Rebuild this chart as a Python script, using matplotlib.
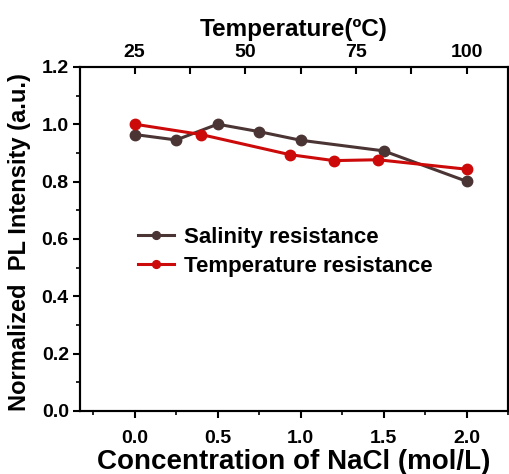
import matplotlib
matplotlib.use("Agg")
import matplotlib.pyplot as plt
from matplotlib.ticker import MultipleLocator

plt.rcParams['font.family'] = ['Liberation Sans', 'DejaVu Sans']
plt.rcParams['font.weight'] = 'bold'

nacl = [0.0, 0.25, 0.5, 0.75, 1.0, 1.5, 2.0]
salinity = [0.964, 0.945, 1.000, 0.974, 0.944, 0.907, 0.801]
temps = [25, 40, 60, 70, 80, 100]
temperature = [1.000, 0.964, 0.894, 0.873, 0.876, 0.843]

c_sal = '#4b3434'
c_tmp = '#cc0a0a'

fig = plt.figure(figsize=(5.09, 4.74), dpi=100)
ax = fig.add_axes([0.157, 0.133, 0.841, 0.726])
ax2 = ax.twiny()

l1, = ax.plot(nacl, salinity, '-o', color=c_sal, lw=2.2, ms=7.5, mec=c_sal, mfc=c_sal,
              label='Salinity resistance')
l2, = ax2.plot(temps, temperature, '-o', color=c_tmp, lw=2.2, ms=7.5, mec=c_tmp, mfc=c_tmp,
               label='Temperature resistance')

ax.set_xlim(-0.33, 2.25)
ax.set_ylim(0, 1.2)
# temp = 25 + 37.5 * x
ax2.set_xlim(25 + 37.5 * -0.33, 25 + 37.5 * 2.25)

ax.xaxis.set_major_locator(MultipleLocator(0.5))
ax.xaxis.set_minor_locator(MultipleLocator(0.25))
ax.yaxis.set_major_locator(MultipleLocator(0.2))
ax.yaxis.set_minor_locator(MultipleLocator(0.1))
ax2.xaxis.set_major_locator(MultipleLocator(25))
ax2.xaxis.set_minor_locator(MultipleLocator(12.5))

ax.tick_params(axis='both', which='major', direction='out', length=5, width=1.5,
               labelsize=14, right=False, pad=3)
ax.tick_params(axis='x', which='major', pad=9)
ax.tick_params(axis='both', which='minor', direction='out', length=3, width=1.2, right=False)
ax2.tick_params(axis='x', which='major', direction='in', length=5, width=1.5, labelsize=14, pad=4)
ax2.tick_params(axis='x', which='minor', direction='in', length=5, width=1.5)

for a in (ax, ax2):
    for s in a.spines.values():
        s.set_linewidth(1.5)
for lab in ax.get_xticklabels() + ax.get_yticklabels() + ax2.get_xticklabels():
    lab.set_fontweight('bold')

ax.set_xlabel('Concentration of NaCl (mol/L)', fontsize=20, fontweight='bold')
ax.xaxis.set_label_coords(0.5, -0.11)
ax.set_ylabel('Normalized  PL Intensity (a.u.)', fontsize=17, fontweight='bold')
ax.yaxis.set_label_coords(-0.115, 0.49)
ax2.set_xlabel('Temperature(ºC)', fontsize=17.5, fontweight='bold')
ax2.xaxis.set_label_coords(0.5, 1.09)

ax.legend(handles=[l1, l2], loc='upper left', bbox_to_anchor=(0.1, 0.58), frameon=False,
          prop={'size': 16, 'weight': 'bold'}, handlelength=1.6, handletextpad=0.45,
          labelspacing=0.35, markerscale=0.75, borderpad=0.2)

fig.savefig('out.png', dpi=100)
